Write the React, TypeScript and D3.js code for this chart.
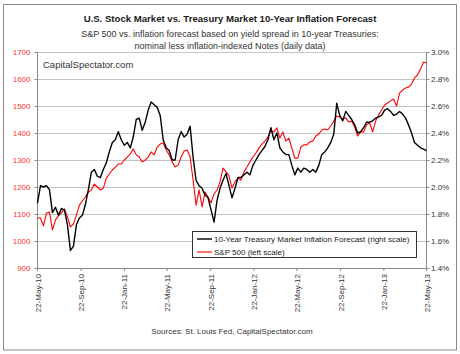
import React from "react";
import * as d3 from "d3";

const START = new Date(2010, 4, 22);
const END = new Date(2013, 4, 22);

// S&P 500 (left scale), sampled evenly from 22-May-10 to 22-May-13
const sp500: number[] = [
  1085, 1085, 1056, 1104, 1107, 1041, 1078, 1093, 1104, 1119, 1089, 1052, 1063, 1096, 1133, 1148,
  1163, 1181, 1189, 1211, 1200, 1189, 1196, 1233, 1248, 1263, 1274, 1285, 1285, 1300, 1311, 1322,
  1341, 1319, 1311, 1293, 1300, 1311, 1330, 1319, 1348, 1359, 1363, 1337, 1319, 1293, 1274, 1281,
  1311, 1333, 1337, 1311, 1226, 1133, 1189, 1126, 1181, 1163, 1141, 1174, 1189, 1219, 1270, 1256,
  1241, 1196, 1219, 1233, 1226, 1256, 1274, 1293, 1311, 1326, 1344, 1359, 1370, 1385, 1407, 1404,
  1419, 1381, 1404, 1370, 1381, 1344, 1307, 1307, 1348, 1356, 1356, 1367, 1370, 1389, 1396, 1411,
  1415, 1411, 1426, 1444, 1463, 1459, 1452, 1456, 1441, 1444, 1422, 1389, 1404, 1404, 1430, 1437,
  1404, 1444, 1467, 1485, 1504, 1511, 1519, 1526, 1500, 1548, 1559, 1567, 1570, 1581, 1604, 1615,
  1637, 1663, 1659,
];

// 10-Year Treasury Market Inflation Forecast, % (right scale)
const inflation: number[] = [
  1.88, 2.01, 2.0, 2.01, 1.98, 1.81, 1.85, 1.79, 1.84, 1.83, 1.72, 1.53, 1.56, 1.72, 1.77, 1.79,
  1.87, 1.98, 2.11, 2.13, 2.08, 2.07, 2.13, 2.18, 2.26, 2.33, 2.35, 2.41, 2.35, 2.31, 2.33, 2.29,
  2.37, 2.5, 2.51, 2.42, 2.48, 2.57, 2.63, 2.61, 2.59, 2.53, 2.35, 2.29, 2.27, 2.2, 2.2, 2.35,
  2.41, 2.37, 2.39, 2.45, 2.22, 2.05, 2.01, 1.99, 1.94, 1.92, 1.83, 1.74, 1.9, 1.99, 2.05, 2.1,
  2.01, 1.92, 1.99, 2.07, 2.07, 2.09, 2.11, 2.09, 2.16, 2.2, 2.24, 2.27, 2.3, 2.35, 2.44, 2.35,
  2.4, 2.29, 2.26, 2.24, 2.24, 2.16, 2.09, 2.14, 2.11, 2.14, 2.13, 2.11, 2.13, 2.11, 2.16, 2.24,
  2.26, 2.29, 2.33, 2.39, 2.62, 2.53, 2.49, 2.56, 2.53, 2.5, 2.46, 2.4, 2.41, 2.44, 2.48, 2.48,
  2.49, 2.51, 2.52, 2.53, 2.57, 2.58, 2.56, 2.53, 2.54, 2.56, 2.54, 2.51, 2.46, 2.4, 2.33, 2.31,
  2.29, 2.28, 2.27,
];

const leftTicks: number[] = [900, 1000, 1100, 1200, 1300, 1400, 1500, 1600, 1700];
const rightTicks: number[] = [1.4, 1.6, 1.8, 2.0, 2.2, 2.4, 2.6, 2.8, 3.0];
const xTickLabels: string[] = [
  "22-May-10", "22-Sep-10", "22-Jan-11", "22-May-11", "22-Sep-11",
  "22-Jan-12", "22-May-12", "22-Sep-12", "22-Jan-13", "22-May-13",
];
const legendLabels: string[] = [
  "10-Year Treasury Market Inflation Forecast (right scale)",
  "S&P 500 (left scale)",
];

const FONT = "'Liberation Sans', Arial, sans-serif";

export default function App() {
  const W = 460, H = 354;
  const L = 37.5, R = 426.5, T = 52, B = 268;

  const n = sp500.length;
  const dates = sp500.map((_, i) => new Date(START.getTime() + (i / (n - 1)) * (END.getTime() - START.getTime())));
  const x = d3.scaleTime().domain([START, END]).range([L, R]);
  const yL = d3.scaleLinear().domain([900, 1700]).range([B, T]);
  const yR = d3.scaleLinear().domain([1.4, 3.0]).range([B, T]);

  const lineSP = d3.line<number>().x((_, i) => x(dates[i])).y((d) => yL(d));
  const lineInf = d3.line<number>().x((_, i) => x(dates[i])).y((d) => yR(d));

  const parse = d3.timeParse("%d-%b-%y");
  const tickDates = xTickLabels.map((s) => parse(s) as Date);

  return (
    <svg width={W} height={H} style={{ position: "absolute", left: 0, top: 0 }} fontFamily={FONT}>
      <rect x={0} y={0} width={W} height={H} fill="#fff" />
      <rect x={3.5} y={4.5} width={453} height={345.5} fill="#fff" stroke="#8a8a8a" strokeWidth={1} />

      <text x={230} y={22} textAnchor="middle" fontSize={9.6} fontWeight="bold" fill="#1a1a1a">
        U.S. Stock Market vs. Treasury Market 10-Year Inflation Forecast
      </text>
      <text x={230} y={36.5} textAnchor="middle" fontSize={9} fill="#333">
        S&amp;P 500 vs. inflation forecast based on yield spread in 10-year Treasuries:
      </text>
      <text x={230} y={48.5} textAnchor="middle" fontSize={9} fill="#333">
        nominal less inflation-indexed Notes (daily data)
      </text>

      {/* gridlines */}
      {leftTicks.map((t) => (
        <line key={"g" + t} x1={L} x2={R} y1={Math.round(yL(t)) + 0.5} y2={Math.round(yL(t)) + 0.5} stroke="#c4c4c4" strokeWidth={1} />
      ))}

      {/* axes */}
      <line x1={L} x2={L} y1={T} y2={B} stroke="#8a8a8a" />
      <line x1={R} x2={R} y1={T} y2={B} stroke="#8a8a8a" />
      <line x1={L} x2={R} y1={B + 0.5} y2={B + 0.5} stroke="#8a8a8a" />
      {leftTicks.map((t) => (
        <g key={"l" + t}>
          <line x1={L - 3} x2={L} y1={Math.round(yL(t)) + 0.5} y2={Math.round(yL(t)) + 0.5} stroke="#8a8a8a" />
          <text x={30.5} y={yL(t) + 3} textAnchor="end" fontSize={8} fill="#ff3030">{t}</text>
        </g>
      ))}
      {rightTicks.map((t) => (
        <g key={"r" + t}>
          <line x1={R} x2={R + 3} y1={Math.round(yR(t)) + 0.5} y2={Math.round(yR(t)) + 0.5} stroke="#8a8a8a" />
          <text x={431} y={yR(t) + 3} textAnchor="start" fontSize={8} fill="#333">{d3.format(".1f")(t) + "%"}</text>
        </g>
      ))}
      {tickDates.map((d, i) => (
        <g key={"x" + i} transform={`translate(${x(d)},${B + 6})`}>
          <line x1={0} x2={0} y1={-6} y2={-3} stroke="#8a8a8a" />
          <text transform="rotate(-90)" x={0} y={3} textAnchor="end" fontSize={8} fill="#333">{xTickLabels[i]}</text>
        </g>
      ))}

      <text x={43} y={67.5} fontSize={9.5} fill="#333">CapitalSpectator.com</text>

      {/* series */}
      <path d={lineSP(sp500) || ""} fill="none" stroke="#ff0000" strokeWidth={1.1} strokeLinejoin="round" />
      <path d={lineInf(inflation) || ""} fill="none" stroke="#000" strokeWidth={1.4} strokeLinejoin="round" />

      {/* legend */}
      <rect x={192.5} y={231.5} width={224} height={26} fill="#fff" stroke="#333" strokeWidth={1} />
      <line x1={197} x2={212} y1={239} y2={239} stroke="#000" strokeWidth={1.4} />
      <text x={214} y={242} fontSize={8} fill="#222">{legendLabels[0]}</text>
      <line x1={197} x2={212} y1={252} y2={252} stroke="#ff0000" strokeWidth={1.1} />
      <text x={214} y={255} fontSize={8} fill="#222">{legendLabels[1]}</text>

      <text x={232} y={334} textAnchor="middle" fontSize={8} fill="#333">Sources: St. Louis Fed, CapitalSpectator.com</text>
    </svg>
  );
}
